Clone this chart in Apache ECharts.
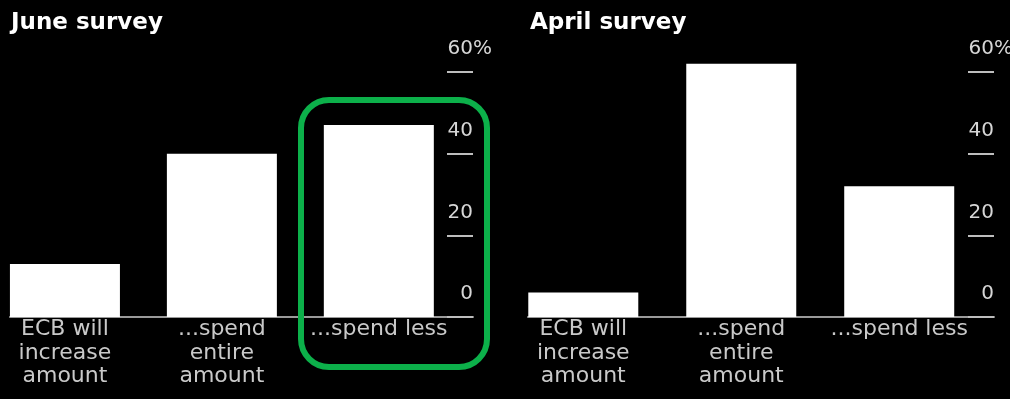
<!DOCTYPE html>
<html>
<head>
<meta charset="utf-8">
<script src="https://cdn.jsdelivr.net/npm/echarts@6/dist/echarts.min.js"></script>
<style>
  html, body { margin: 0; padding: 0; background: #000; }
  #chart { width: 1010px; height: 399px; }
</style>
</head>
<body>
<div id="chart"></div>
<script>
// Survey answers, share of respondents (%)
const categories = ['ECB will\nincrease\namount', '...spend\nentire\namount', '...spend less'];
const juneValues = [13, 40, 47];
const aprilValues = [6, 62, 32];
const panelTitles = ['June survey', 'April survey'];
const yTicks = [0, 20, 40, 60];

const FONT = 'DejaVu Sans';
const TICK_LEN = 26;

function barSeries(values, idx) {
  return {
    type: 'bar',
    xAxisIndex: idx,
    yAxisIndex: idx,
    clip: false,
    barWidth: 110,
    data: values.map((v, i) => [i, v]),
    itemStyle: { color: '#ffffff' },
    label: {
      show: true,
      position: 'bottom',
      distance: 1,
      formatter: p => categories[p.dataIndex],
      color: '#c9c9c9',
      fontFamily: FONT,
      fontSize: 22,
      lineHeight: 23.5,
      align: 'center'
    },
    emphasis: { disabled: true },
    silent: true
  };
}

function xAxis(idx) {
  return {
    type: 'value',
    gridIndex: idx,
    min: -0.35,
    max: 2.6,
    axisLine: { show: true, onZero: true, lineStyle: { color: '#9a9a9a', width: 2 } },
    axisTick: { show: false },
    axisLabel: { show: false },
    splitLine: { show: false }
  };
}

// Right-hand scale: short tick dashes ending at the plot edge, numbers sitting above them
function yAxis(idx) {
  const top = yTicks[yTicks.length - 1];
  return {
    type: 'value',
    gridIndex: idx,
    position: 'right',
    min: yTicks[0],
    max: top,
    interval: yTicks[1] - yTicks[0],
    axisLine: { show: false, onZero: false },
    splitLine: { show: false },
    axisTick: { show: true, inside: true, length: TICK_LEN, lineStyle: { color: '#bdbdbd', width: 2 } },
    axisLabel: {
      inside: true,
      margin: 0,
      align: 'right',
      verticalAlign: 'bottom',
      padding: [0, 0, 13, 0],
      color: '#d6d6d6',
      fontFamily: FONT,
      fontSize: 20,
      formatter: v => v === top ? '{q|' + v + '%}' : String(v),
      rich: {
        q: { color: '#d6d6d6', fontFamily: FONT, fontSize: 20, padding: [0, -19, 0, 0] }
      }
    }
  };
}

const chart = echarts.init(document.getElementById('chart'), null, { renderer: 'canvas' });
chart.setOption({
  backgroundColor: '#000000',
  animation: false,
  title: [
    { text: panelTitles[0], left: 6, top: 7, textStyle: { color: '#ffffff', fontFamily: FONT, fontWeight: 'bold', fontSize: 23 } },
    { text: panelTitles[1], left: 525, top: 7, textStyle: { color: '#ffffff', fontFamily: FONT, fontWeight: 'bold', fontSize: 23 } }
  ],
  grid: [
    { left: 10, top: 72, width: 463, height: 245, containLabel: false, outerBoundsMode: 'none' },
    { left: 528, top: 72, width: 466, height: 245, containLabel: false, outerBoundsMode: 'none' }
  ],
  xAxis: [xAxis(0), xAxis(1)],
  yAxis: [yAxis(0), yAxis(1)],
  series: [barSeries(juneValues, 0), barSeries(aprilValues, 1)],
  graphic: [
    {
      type: 'rect',
      shape: { x: 301, y: 100, width: 186, height: 267, r: 28 },
      style: { fill: null, stroke: '#0cb04a', lineWidth: 6 },
      silent: true,
      z: 10
    }
  ]
});
</script>
</body>
</html>
